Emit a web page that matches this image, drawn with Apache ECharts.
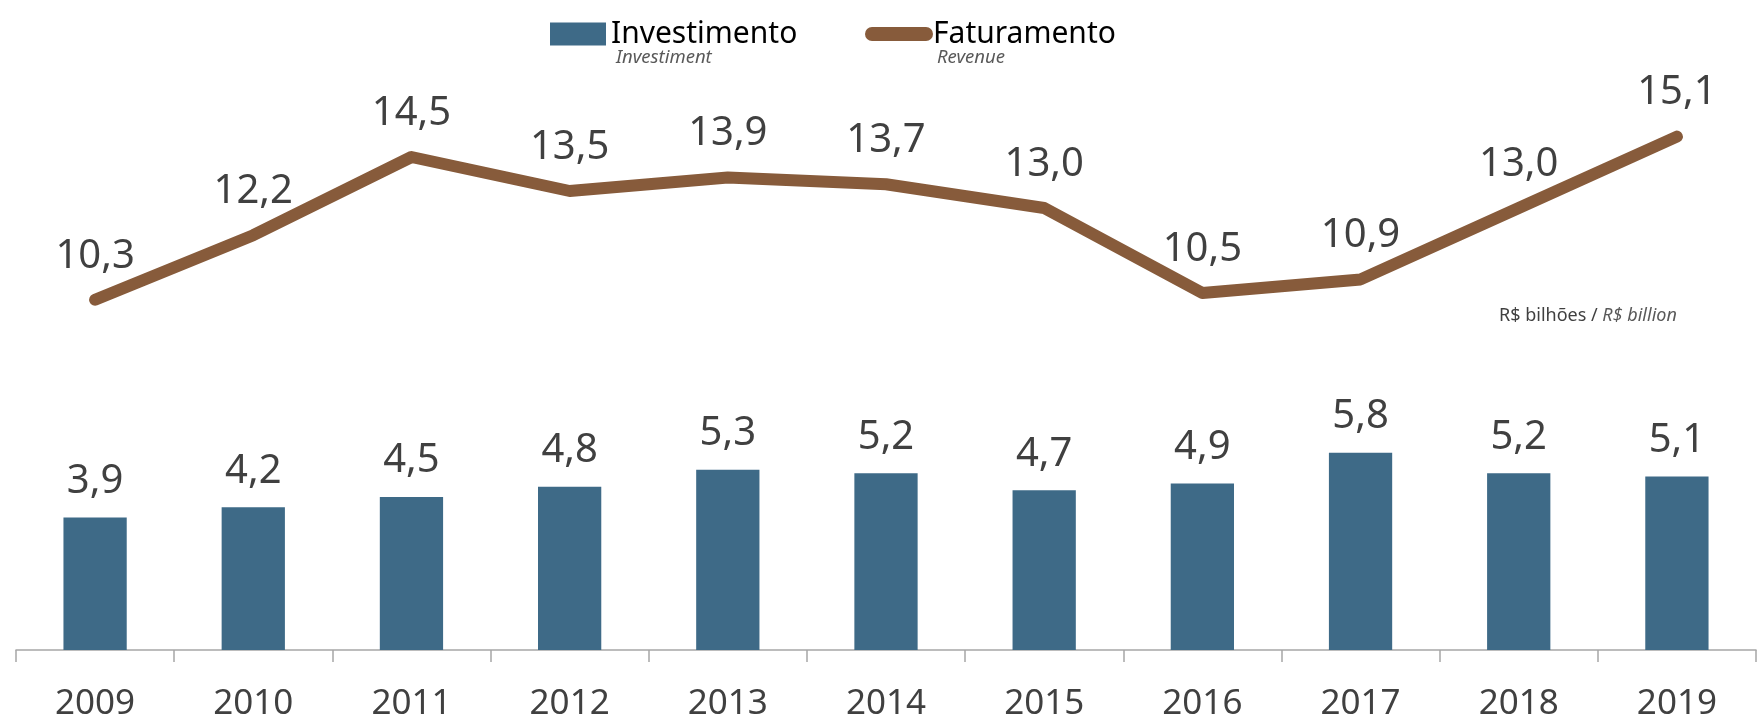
<!DOCTYPE html>
<html>
<head>
<meta charset="utf-8">
<title>Investimento x Faturamento</title>
<script src="https://cdn.jsdelivr.net/npm/echarts@6/dist/echarts.min.js"></script>
<style>
  html, body { margin: 0; padding: 0; background: #fff; }
  #chart { width: 1763px; height: 723px; }
</style>
</head>
<body>
<div id="chart"></div>
<script>
// anos
const years = ['2009', '2010', '2011', '2012', '2013', '2014', '2015', '2016', '2017', '2018', '2019'];
// investimento (barras)
const investimento = [3.9, 4.2, 4.5, 4.8, 5.3, 5.2, 4.7, 4.9, 5.8, 5.2, 5.1];
// faturamento (linha)
const faturamento = [10.3, 12.2, 14.5, 13.5, 13.9, 13.7, 13.0, 10.5, 10.9, 13.0, 15.1];

const barColor = '#3e6a87';
const lineColor = '#875b3b';
const fontName = '"Noto Sans", "Open Sans", sans-serif';

// 10.3 -> "10,3"
function fmt(p) {
  return p.value.toFixed(1).replace('.', ',');
}

let myChart = echarts.init(document.getElementById('chart'));
let option = {
  animation: false,
  textStyle: { fontFamily: fontName },
  legend: [
    {
      data: ['Investimento'],
      left: 550,
      top: 19,
      padding: 0,
      icon: 'rect',
      itemWidth: 56,
      itemHeight: 23,
      selectedMode: false,
      textStyle: { fontSize: 30, color: '#000', fontFamily: fontName }
    },
    {
      data: [{
        name: 'Faturamento',
        icon: 'path://M7,0 L61,0 A7,7 0 0 1 61,14 L7,14 A7,7 0 0 1 7,0 Z'
      }],
      left: 865,
      top: 19,
      padding: 0,
      itemWidth: 68,
      itemHeight: 14,
      selectedMode: false,
      itemStyle: { color: lineColor },
      lineStyle: { width: 0 },
      textStyle: { fontSize: 30, color: '#000', fontFamily: fontName, padding: [0, 0, 0, -5] }
    }
  ],
  graphic: [
    {
      type: 'text', left: 616, top: 48,
      style: { text: 'Investiment', fontSize: 18.5, fontStyle: 'italic', fill: '#595959', fontFamily: fontName }
    },
    {
      type: 'text', left: 937, top: 48,
      style: { text: 'Revenue', fontSize: 18.5, fontStyle: 'italic', fill: '#595959', fontFamily: fontName }
    },
    {
      type: 'text', left: 1499, top: 307,
      style: {
        text: '{a|R$ bilhões / }{b|R$ billion}',
        fontFamily: fontName,
        rich: {
          a: { fontSize: 18, fill: '#404040', fontFamily: fontName },
          b: { fontSize: 18, fill: '#595959', fontStyle: 'italic', fontFamily: fontName }
        }
      }
    }
  ],
  grid: {
    left: 16,
    right: 7,
    top: 38,
    bottom: 73,
    containLabel: false
  },
  xAxis: {
    type: 'category',
    data: years,
    boundaryGap: true,
    axisLine: { lineStyle: { color: '#a6a6a6', width: 1.5 } },
    axisTick: { show: true, length: 12, lineStyle: { color: '#a6a6a6', width: 1.5 } },
    axisLabel: { fontSize: 35, color: '#404040', margin: 37, fontFamily: fontName }
  },
  yAxis: {
    type: 'value',
    min: 0,
    max: 18,
    show: false,
    splitLine: { show: false }
  },
  series: [
    {
      name: 'Investimento',
      type: 'bar',
      data: investimento,
      barWidth: '40%',
      itemStyle: { color: barColor },
      label: {
        show: true,
        position: 'top',
        distance: 16,
        fontSize: 40,
        color: '#404040',
        fontFamily: fontName,
        formatter: fmt
      }
    },
    {
      name: 'Faturamento',
      type: 'line',
      data: faturamento,
      // símbolo mínimo só para os rótulos aparecerem
      symbol: 'circle',
      symbolSize: 1,
      showSymbol: true,
      color: lineColor,
      itemStyle: { color: lineColor },
      lineStyle: { color: lineColor, width: 12, cap: 'round', join: 'round' },
      label: {
        show: true,
        position: 'top',
        distance: 23,
        fontSize: 40,
        color: '#404040',
        fontFamily: fontName,
        formatter: fmt
      }
    }
  ]
};
myChart.setOption(option);
</script>
</body>
</html>
